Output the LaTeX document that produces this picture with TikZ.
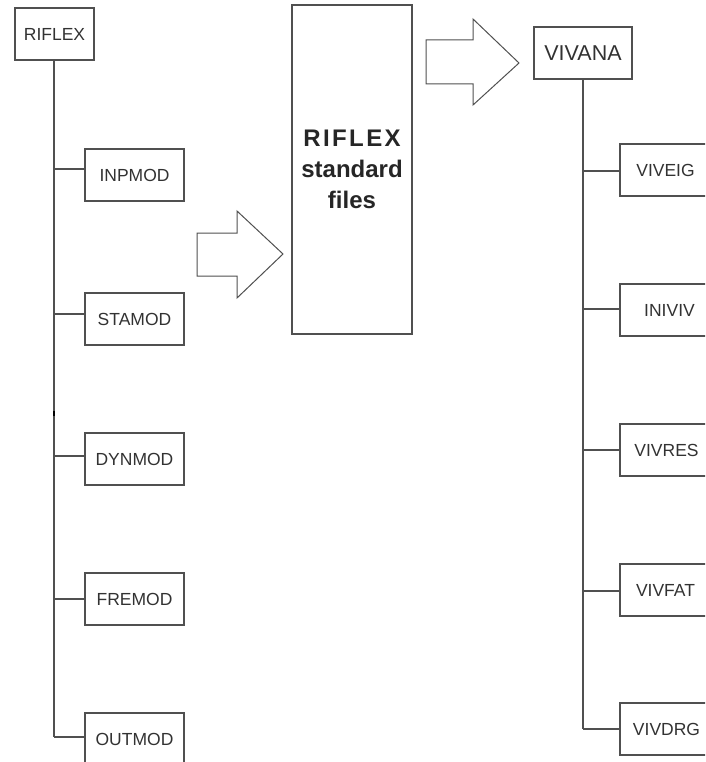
\documentclass[tikz,border=0pt]{standalone}
\usepackage{fontspec}
\setmainfont{Liberation Sans}
\definecolor{ln}{RGB}{80,80,80}
\definecolor{tx}{RGB}{50,50,50}
\tikzset{
  modbox/.style={draw=ln, line width=1.2pt, minimum width=99pt, minimum height=52pt, inner sep=0pt, text=tx, font=\fontsize{17.5}{20}\selectfont},
  filebox/.style={draw=ln, line width=1.2pt, minimum width=120pt, minimum height=329pt, inner sep=0pt, text=black!85, align=center, font=\fontsize{24}{31}\selectfont\bfseries},
  conn/.style={draw=ln, line width=1.2pt},
  blockarrow/.style={draw=ln, line width=1pt, fill=white, line join=miter}
}
\begin{document}
\begin{tikzpicture}[x=1pt,y=-1pt]
\useasboundingbox (0,0) rectangle (705,762);
\clip (0,0) rectangle (705,762);
% left tree
\node[modbox, minimum width=79pt] (riflex) at (54.5,34) {RIFLEX};
\node[modbox] (inpmod) at (134.5,175) {INPMOD};
\node[modbox] (stamod) at (134.5,319) {STAMOD};
\node[modbox] (dynmod) at (134.5,459) {DYNMOD};
\node[modbox] (fremod) at (134.5,599) {FREMOD};
\node[modbox] (outmod) at (134.5,739) {OUTMOD};
\coordinate (l1) at (54,169);
\coordinate (l2) at (54,314);
\coordinate (l3) at (54,456);
\coordinate (l4) at (54,599);
\coordinate (l5) at (54,737);
\draw[conn] (riflex.south -| l1) -- (l5);
\draw[conn] (l1) -- (l1 -| inpmod.west);
\draw[conn] (l2) -- (l2 -| stamod.west);
\draw[conn] (l3) -- (l3 -| dynmod.west);
\draw[conn] (l4) -- (l4 -| fremod.west);
\draw[conn] (l5) -- (l5 -| outmod.west);
\fill[black] (52.8,410.5) rectangle (55.4,415.5);
% middle
\node[filebox] (files) at (352,169.5) {{\addfontfeature{LetterSpace=10}RIFLEX}\\standard\\files};
% right tree
\node[modbox, minimum width=98pt, font=\fontsize{21.5}{24}\selectfont] (vivana) at (583,53) {VIVANA};
\node[modbox] (viveig) at (669.5,170) {\hspace*{-8pt}VIVEIG};
\node[modbox] (iniviv) at (669.5,310) {INIVIV};
\node[modbox] (vivres) at (669.5,450) {\hspace*{-6pt}VIVRES};
\node[modbox] (vivfat) at (669.5,590) {\hspace*{-8pt}VIVFAT};
\node[modbox] (vivdrg) at (669.5,729) {\hspace*{-6pt}VIVDRG};
\coordinate (r1) at (583,171);
\coordinate (r2) at (583,309);
\coordinate (r3) at (583,450);
\coordinate (r4) at (583,591);
\coordinate (r5) at (583,729);
\draw[conn] (vivana.south) -- (r5);
\draw[conn] (r1) -- (r1 -| viveig.west);
\draw[conn] (r2) -- (r2 -| iniviv.west);
\draw[conn] (r3) -- (r3 -| vivres.west);
\draw[conn] (r4) -- (r4 -| vivfat.west);
\draw[conn] (r5) -- (r5 -| vivdrg.west);
% block arrows
\draw[blockarrow] (197,233) -- (237,233) -- (237,211) -- (283,254) -- (237,298) -- (237,276) -- (197,276) -- cycle;
\draw[blockarrow] (426,40) -- (473,40) -- (473,19) -- (519,63) -- (473,105) -- (473,84) -- (426,84) -- cycle;
\end{tikzpicture}
\end{document}
